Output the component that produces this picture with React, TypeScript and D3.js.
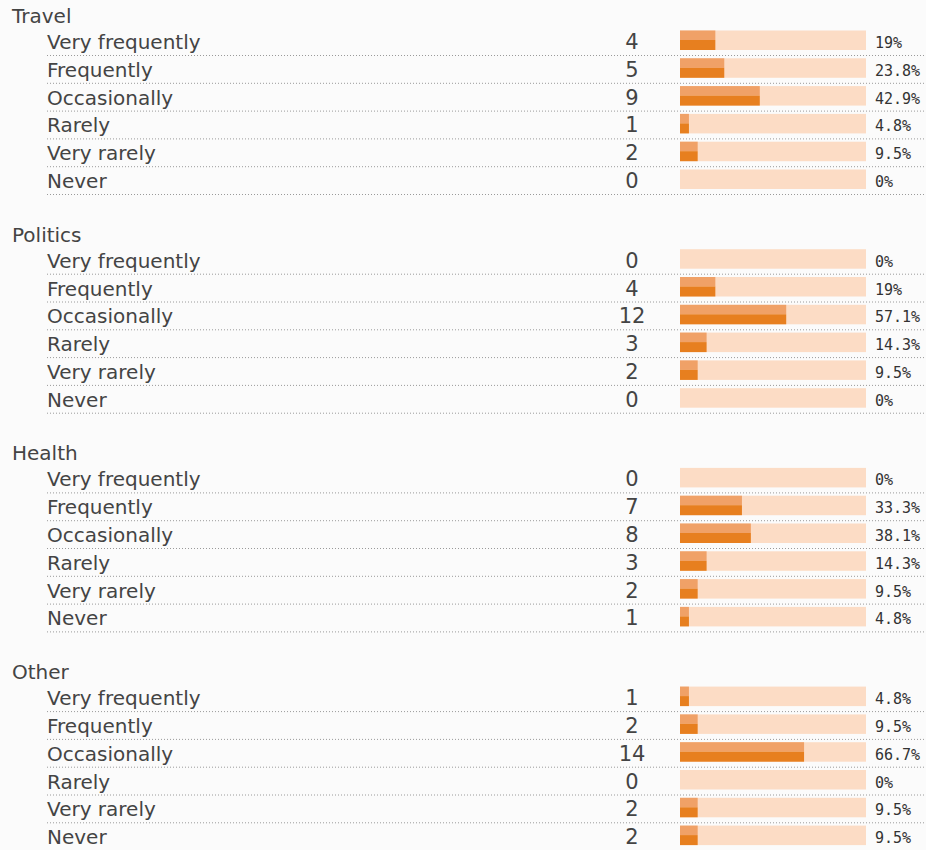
import React from "react";
import * as d3 from "d3";

const groups = ["Travel", "Politics", "Health", "Other"];
const answers = ["Very frequently", "Frequently", "Occasionally", "Rarely", "Very rarely", "Never"];
const travelCounts = [4, 5, 9, 1, 2, 0];
const travelPct = [19, 23.8, 42.9, 4.8, 9.5, 0];
const politicsCounts = [0, 4, 12, 3, 2, 0];
const politicsPct = [0, 19, 57.1, 14.3, 9.5, 0];
const healthCounts = [0, 7, 8, 3, 2, 1];
const healthPct = [0, 33.3, 38.1, 14.3, 9.5, 4.8];
const otherCounts = [1, 2, 14, 0, 2, 2];
const otherPct = [4.8, 9.5, 66.7, 0, 9.5, 9.5];

const counts = [travelCounts, politicsCounts, healthCounts, otherCounts];
const pcts = [travelPct, politicsPct, healthPct, otherPct];

const W = 926;
const H = 850;
const FONT = "'DejaVu Sans', sans-serif";

export default function App() {
  const x = d3.scaleLinear().domain([0, 100]).range([680, 866]);
  const groupY = d3.scaleLinear().domain([0, 1]).range([16, 234.7]);
  const rowOffset = d3.scaleLinear().domain([0, 1]).range([26, 53.8]);
  const fmt = (v: number) => `${v}%`;

  return (
    <svg width={W} height={H} style={{ position: "absolute", left: 0, top: 0 }}>
      <rect x={0} y={0} width={W} height={H} fill="#fbfbfb" />
      {groups.map((g, gi) => {
        const gy = groupY(gi);
        return (
          <g key={g}>
            <text x={12} y={gy} dominantBaseline="central" fontFamily={FONT} fontSize={20} fill="#444">
              {g}
            </text>
            {answers.map((a, ri) => {
              const cy = gy + rowOffset(ri);
              const v = pcts[gi][ri];
              const w = x(v) - x(0);
              return (
                <g key={a}>
                  <text x={47} y={cy} dominantBaseline="central" fontFamily={FONT} fontSize={20} fill="#444">
                    {a}
                  </text>
                  <text x={632} y={cy} dominantBaseline="central" textAnchor="middle" fontFamily={FONT} fontSize={21} fill="#444">
                    {counts[gi][ri]}
                  </text>
                  <rect x={x(0)} y={cy - 11.5} width={x(100) - x(0)} height={19.5} fill="#fcdcc5" />
                  {w > 0 && (
                    <g>
                      <rect x={x(0)} y={cy - 11.5} width={w} height={9.5} fill="#f0a167" />
                      <rect x={x(0)} y={cy - 2} width={w} height={10} fill="#e77f1f" />
                    </g>
                  )}
                  <text x={875} y={cy + 1} dominantBaseline="central" fontFamily="'DejaVu Sans Mono', monospace" fontSize={15} fill="#333">
                    {fmt(v)}
                  </text>
                  <line x1={47} x2={W} y1={cy + 13.5} y2={cy + 13.5} stroke="#9a9a9a" strokeWidth={1} strokeDasharray="1 2" />
                </g>
              );
            })}
          </g>
        );
      })}
    </svg>
  );
}
